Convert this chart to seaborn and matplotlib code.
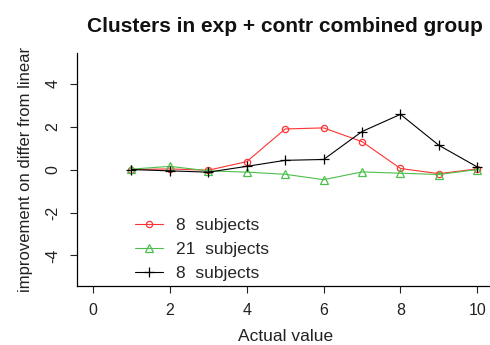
import matplotlib
matplotlib.use("Agg")
import matplotlib.pyplot as plt
import seaborn as sns
import pandas as pd

# values
x_vals = [1, 2, 3, 4, 5, 6, 7, 8, 9, 10]
red_8 = [0.0, 0.03, -0.03, 0.37, 1.89, 1.94, 1.30, 0.05, -0.19, 0.03]
green_21 = [0.02, 0.15, -0.06, -0.12, -0.22, -0.47, -0.11, -0.17, -0.23, 0.0]
black_8 = [0.0, -0.06, -0.12, 0.15, 0.43, 0.47, 1.77, 2.57, 1.13, 0.12]

labels = ["8  subjects", "21  subjects", "8  subjects"]
colors = ["#ff3333", "#4cbf4c", "black"]
markers = ["o", "^", "+"]
msizes = [4.5, 5.5, 7]

sns.set_theme(style="ticks")
plt.rcParams["font.family"] = ["Liberation Sans", "DejaVu Sans"]
plt.rcParams["axes.unicode_minus"] = False

fig = plt.figure(figsize=(4.9, 3.45), dpi=100)
ax = fig.add_axes([0.157, 0.171, 0.85, 0.675])

for ys, lab, col, mk, ms in zip([red_8, green_21, black_8], labels, colors, markers, msizes):
    df = pd.DataFrame({"x": x_vals, "y": ys})
    sns.lineplot(data=df, x="x", y="y", color=col, marker=mk, markersize=ms,
                 markerfacecolor="none", markeredgecolor=col, markeredgewidth=0.9,
                 linewidth=0.8, label=lab, ax=ax)

ax.set_xlim(-0.42, 10.42)
ax.set_ylim(-5.42, 5.42)
ax.set_xticks([0, 2, 4, 6, 8, 10])
ax.set_yticks([-4, -2, 0, 2, 4])
ax.tick_params(axis="both", labelsize=11.5, length=5, width=0.8, pad=7,
               color="#222222", labelcolor="#222222")
for t in ax.get_yticklabels():
    t.set_rotation(90)
    t.set_va("center")
sns.despine(ax=ax)
for s in ["left", "bottom"]:
    ax.spines[s].set_color("black")
    ax.spines[s].set_linewidth(0.9)

ax.set_xlabel("Actual value", fontsize=12.5, labelpad=8, color="#222222")
ax.set_ylabel("improvement on differ from linear", fontsize=12, labelpad=9, color="#222222")
ax.set_title("Clusters in exp + contr combined group", fontsize=15, fontweight="bold",
             pad=15, color="#111111")

ax.legend(loc="lower left", bbox_to_anchor=(0.139, 0.02), frameon=False, fontsize=12.5,
          handlelength=1.6, labelspacing=0.52, handletextpad=0.8,
          borderaxespad=0, borderpad=0)

fig.savefig("out.png", dpi=100)
